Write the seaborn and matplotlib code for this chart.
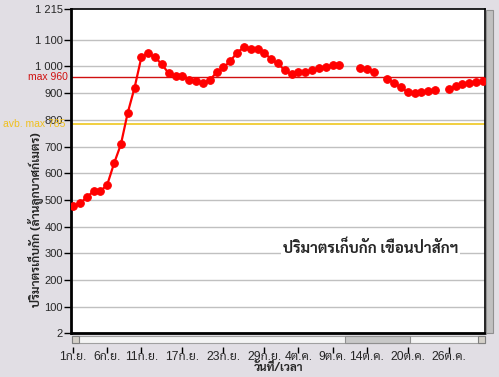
import numpy as np
import pandas as pd
import matplotlib
matplotlib.use("Agg")
import matplotlib.pyplot as plt
import matplotlib.dates as mdates
from matplotlib.patches import Rectangle
from matplotlib import font_manager as fm
from matplotlib.ft2font import FT2Font
import seaborn as sns

# ---------------- data ----------------
start_date = "2011-09-01"
volume = [477, 487, 510, 533, 533, 557, 637, 708, 826, 920,
          1034, 1049, 1034, 1008, 974, 965, 965, 951, 944, 937,
          948, 978, 996, 1019, 1052, 1071, 1067, 1067, 1052, 1026,
          1011, 985, 970, 978, 978, 985, 993, 996, 1004, 1004,
          np.nan, np.nan, 993, 989, 981, np.nan, 954, 937, 922, 903,
          899, 903, 907, 910, np.nan, 914, 925, 933, 937, 940, 944]
tick_dates = ["2011-09-01", "2011-09-06", "2011-09-11", "2011-09-17", "2011-09-23",
              "2011-09-29", "2011-10-04", "2011-10-09", "2011-10-14", "2011-10-20",
              "2011-10-26"]
tick_labels = ["1ก.ย.", "6ก.ย.", "11ก.ย.", "17ก.ย.", "23ก.ย.", "29ก.ย.",
               "4ต.ค.", "9ต.ค.", "14ต.ค.", "20ต.ค.", "26ต.ค."]
y_ticks = [2, 100, 200, 300, 400, 500, 600, 700, 800, 900, 1000, 1100, 1215]
y_tick_labels = ["2", "100", "200", "300", "400", "500", "600", "700", "800",
                 "900", "1 000", "1 100", "1 215"]
max_level = 960
avg_max_level = 785
title_text = "ปริมาตรเก็บกัก เขื่อนป่าสักฯ"
y_label = "ปริมาตรเก็บกัก (ล้านลูกบาศก์เมตร)"
x_label = "วันที่/เวลา"

# ---------------- fonts ----------------
thai_names = set()
for f in fm.fontManager.ttflist:
    try:
        cm = FT2Font(f.fname).get_charmap()
        if 0x0E1B in cm and 0x0E40 in cm and 0x0E48 in cm:
            thai_names.add(f.name)
    except Exception:
        pass
pref = ["Tahoma", "Sarabun", "Noto Sans Thai Looped", "Loma", "Garuda", "Noto Sans Thai"]
thai_font = next((p for p in pref if p in thai_names), None)
if thai_font is None and thai_names:
    thai_font = sorted(thai_names)[0]
thai_fam = ([thai_font] if thai_font else []) + ["DejaVu Sans"]

sns.set_theme(style="white")
plt.rcParams["font.family"] = ["Liberation Sans", "DejaVu Sans"] + ([thai_font] if thai_font else [])

dates = pd.date_range(start_date, periods=len(volume), freq="D")
df = pd.DataFrame({"date": dates, "volume": volume})
df["seg"] = df["volume"].isna().cumsum()
df = df.dropna()

W, H = 499, 377
fig = plt.figure(figsize=(W / 100, H / 100), dpi=100)
fig.patch.set_facecolor("#e1dee4")

ax_l, ax_r, ax_t, ax_b = 71, 485, 9, 333
ax = fig.add_axes([ax_l / W, 1 - ax_b / H, (ax_r - ax_l) / W, (ax_b - ax_t) / H])
ax.set_facecolor("white")

for yv in y_ticks[1:-1]:
    ax.axhline(yv, color="#c0c0c0", lw=1.0, zorder=0)
ax.axhline(max_level, color="#d01010", lw=1.0, zorder=1)
ax.axhline(avg_max_level, color="#f0cc30", lw=1.3, zorder=1)

sns.lineplot(data=df, x="date", y="volume", units="seg", estimator=None,
             color="#ff0000", lw=1.6, marker="o", markersize=5.5,
             markeredgecolor="#ff0000", ax=ax, legend=False, zorder=3)

x0 = mdates.date2num(pd.Timestamp(start_date))
ax.set_xlim(x0 - 0.3, x0 + 60.3)
ax.set_ylim(2, 1215)

ax.set_yticks(y_ticks)
ax.set_yticklabels(y_tick_labels, fontsize=8)
ax.set_xticks([mdates.date2num(pd.Timestamp(d)) for d in tick_dates])
ax.set_xticklabels(tick_labels, fontsize=8, family=thai_fam)
ax.tick_params(axis="y", direction="out", length=5, width=1, color="black", pad=1, left=True)
ax.tick_params(axis="x", direction="out", length=4, width=1, color="black", pad=-1, bottom=True)

for s in ["top", "right"]:
    ax.spines[s].set_color("black")
    ax.spines[s].set_linewidth(1.2)
ax.spines["left"].set_color("black")
ax.spines["left"].set_linewidth(2)
ax.spines["bottom"].set_position(("outward", 10))
ax.spines["bottom"].set_visible(False)
ax.axhline(2, color="black", lw=2, clip_on=False, zorder=5)

ax.set_xlabel(x_label, fontsize=8, fontweight="bold", family=thai_fam)
ax.xaxis.set_label_coords(0.5, (ax_b - 368) / (ax_b - ax_t))
ax.xaxis.label.set_va("center")
ax.set_ylabel(y_label, fontsize=8, fontweight="bold", family=thai_fam)
ax.yaxis.set_label_coords((35 - ax_l) / (ax_r - ax_l), (ax_b - 220) / (ax_b - ax_t))
ax.yaxis.label.set_va("center")

ax.text(68 / W, 1 - ((ax_b - (max_level - 2) * (ax_b - ax_t) / 1213)) / H, "max 960",
        color="#d01010", fontsize=7.5, ha="right", va="center", transform=fig.transFigure)
ax.text(3 / W, 1 - ((ax_b - (avg_max_level - 2) * (ax_b - ax_t) / 1213)) / H, "avb. max 785",
        color="#f0c020", fontsize=7.5, ha="left", va="center", transform=fig.transFigure)

title = ax.text(0.512, 0.262, title_text, fontsize=9, fontweight="bold",
                family=thai_fam, ha="left", va="center", transform=ax.transAxes,
                bbox=dict(facecolor="white", edgecolor="none", pad=1), zorder=4)

# fit text sizes to the reference widths / heights (in pixels) using the renderer
fig.canvas.draw()
r = fig.canvas.get_renderer()
def fit(t, target, use_height=False):
    for _ in range(2):
        bb = t.get_window_extent(renderer=r)
        cur = bb.height if use_height else bb.width
        if cur > 0:
            t.set_fontsize(t.get_fontsize() * target / cur)
xt = ax.get_xticklabels()
bb = xt[3].get_window_extent(renderer=r)
scale = 34 / bb.width if bb.width > 0 else 1
for t in xt:
    t.set_fontsize(t.get_fontsize() * scale)
fit(ax.xaxis.label, 50)
fit(ax.yaxis.label, 175, use_height=True)
fit(title, 176)

def px_rect(x, y, w, h, **kw):
    rr = Rectangle((x / W, 1 - (y + h) / H), w / W, h / H, transform=fig.transFigure, **kw)
    fig.add_artist(rr)

# horizontal scrollbar
px_rect(72, 336, 413, 7, facecolor="#f4f4f4", edgecolor="#a0a0a0", lw=0.8)
px_rect(72, 336, 7, 7, facecolor="#d4d0c8", edgecolor="#808080", lw=0.8)
px_rect(478, 336, 7, 7, facecolor="#d4d0c8", edgecolor="#808080", lw=0.8)
px_rect(345, 336, 65, 7, facecolor="#c8c8c8", edgecolor="#909090", lw=0.8)
# vertical scrollbar
px_rect(486, 10, 7, 323, facecolor="#c0c0c0", edgecolor="#909090", lw=0.8)

fig.savefig("out.png", dpi=100, facecolor=fig.get_facecolor())
